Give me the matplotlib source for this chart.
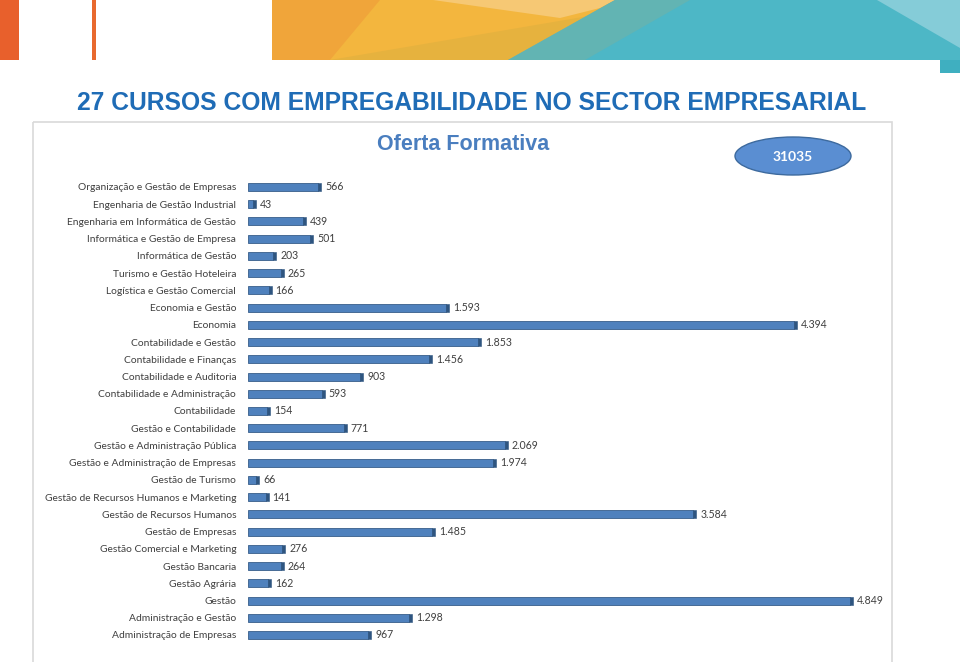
import matplotlib
matplotlib.use("Agg")
import matplotlib.pyplot as plt
from matplotlib.patches import Rectangle, Polygon, Ellipse

categories = [
    "Organização e Gestão de Empresas", "Engenharia de Gestão Industrial",
    "Engenharia em Informática de Gestão", "Informática e Gestão de Empresa",
    "Informática de Gestão", "Turismo e Gestão Hoteleira",
    "Logística e Gestão Comercial", "Economia e Gestão", "Economia",
    "Contabilidade e Gestão", "Contabilidade e Finanças",
    "Contabilidade e Auditoria", "Contabilidade e Administração",
    "Contabilidade", "Gestão e Contabilidade", "Gestão e Administração Pública",
    "Gestão e Administração de Empresas", "Gestão de Turismo",
    "Gestão de Recursos Humanos e Marketing", "Gestão de Recursos Humanos",
    "Gestão de Empresas", "Gestão Comercial e Marketing", "Gestão Bancaria",
    "Gestão Agrária", "Gestão", "Administração e Gestão",
    "Administração de Empresas",
]
values = [566, 43, 439, 501, 203, 265, 166, 1593, 4394, 1853, 1456, 903, 593,
          154, 771, 2069, 1974, 66, 141, 3584, 1485, 276, 264, 162, 4849, 1298,
          967]
total_label = "31035"
title = "27 CURSOS COM EMPREGABILIDADE NO SECTOR EMPRESARIAL"
subtitle = "Oferta Formativa"

W, H = 960, 662
fig = plt.figure(figsize=(W / 100, H / 100), dpi=100)

# background overlay axes in pixel coordinates
bg = fig.add_axes([0, 0, 1, 1])
bg.set_xlim(0, W)
bg.set_ylim(H, 0)
bg.axis("off")

# decorative banner
bg.add_patch(Rectangle((0, 0), 19, 60, color="#E8602C", lw=0))
bg.add_patch(Rectangle((92, 0), 4, 60, color="#E8692E", lw=0))
bg.add_patch(Rectangle((272, 0), 688, 60, color="#F0A53A", lw=0))
bg.add_patch(Polygon([(380, 0), (615, 0), (508, 60), (330, 60)], closed=True,
                     color="#F3B63E", lw=0))
bg.add_patch(Polygon([(433, 0), (615, 0), (600, 8), (560, 18)], closed=True,
                     color="#F6C874", lw=0))
bg.add_patch(Polygon([(330, 60), (612, 12), (508, 60)], closed=True,
                     color="#E6B23E", lw=0))
bg.add_patch(Polygon([(615, 0), (960, 0), (960, 60), (508, 60)], closed=True,
                     color="#4DB7C6", lw=0))
bg.add_patch(Polygon([(615, 0), (690, 0), (585, 60), (508, 60)], closed=True,
                     color="#6BB3AC", lw=0, alpha=0.7))
bg.add_patch(Polygon([(877, 0), (960, 0), (960, 48)], closed=True,
                     color="#85CCD8", lw=0))
bg.add_patch(Rectangle((940, 60), 20, 13, color="#3FAFC0", lw=0))

# panel frame
bg.add_patch(Rectangle((33, 122), 859, 545, fill=False, ec="#D9D9D9", lw=1.2))

# titles
bg.text(472, 103, title, ha="center", va="center", color="#1F6CB6",
        fontsize=17.7, fontweight="bold", family="Liberation Sans")
bg.text(463, 145, subtitle, ha="center", va="center", color="#4A7EBF",
        fontsize=15.5, fontweight="bold", family="Liberation Sans")

# ellipse with total
bg.add_patch(Ellipse((793, 156), 116, 38, fc="#5A8ED2", ec="#3D6A9E", lw=1))
bg.text(793, 157, total_label, ha="center", va="center", color="white",
        fontsize=10, fontweight="bold", family="Lato")

# bar chart axes
px_per_unit = 0.1242
x0, x1 = 248, 892
step = (635 - 187) / 26
top = 187 - step / 2
bottom = 635 + step / 2
ax = fig.add_axes([x0 / W, 1 - bottom / H, (x1 - x0) / W, (bottom - top) / H])
ax.set_xlim(0, (x1 - x0) / px_per_unit)
n = len(values)
ypos = list(range(n))
ax.set_ylim(n - 0.5, -0.5)
ax.patch.set_alpha(0)
for s in ax.spines.values():
    s.set_visible(False)
ax.tick_params(left=False, bottom=False, labelbottom=False)
ax.set_yticks(ypos)
ax.set_yticklabels(categories, fontsize=7.4, color="#3F3F3F", family="Lato")
ax.tick_params(axis="y", pad=5)

bh = 0.46
ax.barh(ypos, values, height=bh, color="#4F81BD", edgecolor="#385D8A", lw=0.6)
cap = 3 / px_per_unit
ax.barh(ypos, [cap] * n, left=values, height=bh, color="#2E5580",
        edgecolor="#2E5580", lw=0.4)
for y, v in zip(ypos, values):
    lab = f"{v:,}".replace(",", ".")
    ax.text(v + cap + 4 / px_per_unit, y, lab, va="center", ha="left",
            fontsize=7.6, color="#3F3F3F", family="Lato")

fig.savefig("out.png", dpi=100)
